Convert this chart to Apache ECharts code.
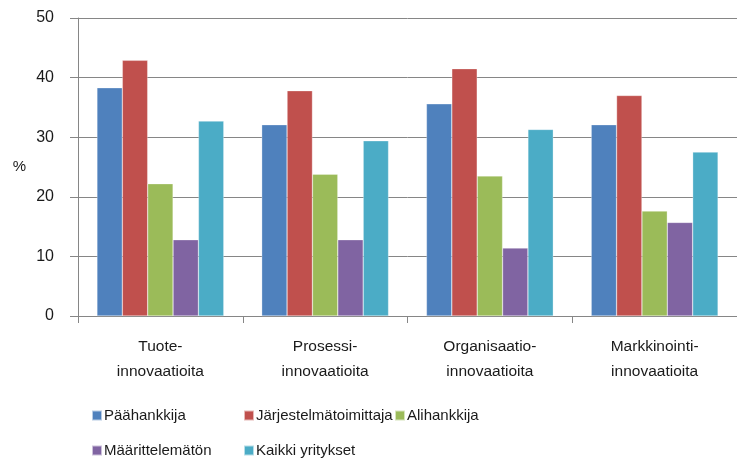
<!DOCTYPE html>
<html>
<head>
<meta charset="utf-8">
<script src="https://cdn.jsdelivr.net/npm/echarts@6/dist/echarts.min.js"></script>
<style>
  html, body { margin: 0; padding: 0; background: #fff; }
  #chart { width: 737px; height: 459px; }
</style>
</head>
<body>
<div id="chart"></div>
<script>
const categories = ['Tuote-\ninnovaatioita', 'Prosessi-\ninnovaatioita', 'Organisaatio-\ninnovaatioita', 'Markkinointi-\ninnovaatioita']
const seriesNames = ['Päähankkija', 'Järjestelmätoimittaja', 'Alihankkija', 'Määrittelemätön', 'Kaikki yritykset']
const paahankkija = [38.3, 32.1, 35.6, 32.1]
const jarjestelmatoimittaja = [42.9, 37.8, 41.5, 37.0]
const alihankkija = [22.2, 23.8, 23.5, 17.6]
const maarittelematon = [12.8, 12.8, 11.4, 15.7]
const kaikki = [32.7, 29.4, 31.3, 27.5]
const yTicks = [0, 10, 20, 30, 40, 50]

const colors = ['#4F81BD', '#C0504D', '#9BBB59', '#8064A2', '#4BACC6']
const values = [paahankkija, jarjestelmatoimittaja, alihankkija, maarittelematon, kaikki]
const font = 'Liberation Sans'
const textColor = '#1a1a1a'
const gray = '#868686'

// legend positions, one legend per item (two rows like the original)
const legendPos = [
  { left: 91, top: 408 },
  { left: 243, top: 408 },
  { left: 394, top: 408 },
  { left: 91, top: 443 },
  { left: 243, top: 443 }
]

const chart = echarts.init(document.getElementById('chart'))

const option = {
  animation: false,
  color: colors,
  textStyle: { fontFamily: font },
  grid: { left: 78, right: -6, top: 18, bottom: 143, containLabel: false },
  legend: seriesNames.map((name, i) => ({
    data: [name],
    left: legendPos[i].left,
    top: legendPos[i].top,
    icon: 'rect',
    itemWidth: 10,
    itemHeight: 10,
    itemGap: 0,
    padding: 0,
    textStyle: { fontFamily: font, fontSize: 15, color: textColor, padding: [0, 0, 0, -3] }
  })),
  xAxis: {
    type: 'category',
    data: categories,
    axisLine: { lineStyle: { color: gray, width: 1 } },
    axisTick: { show: true, length: 7, lineStyle: { color: gray } },
    axisLabel: {
      fontFamily: font,
      fontSize: 15.5,
      color: textColor,
      lineHeight: 25,
      margin: 18
    }
  },
  yAxis: {
    type: 'value',
    min: yTicks[0],
    max: yTicks[yTicks.length - 1],
    interval: 10,
    name: '%',
    nameLocation: 'middle',
    nameRotate: 0,
    nameGap: 52,
    nameTextStyle: { fontFamily: font, fontSize: 15, color: textColor },
    axisLine: { show: true, lineStyle: { color: gray, width: 1 } },
    axisTick: { show: true, length: 8, lineStyle: { color: gray } },
    axisLabel: { fontFamily: font, fontSize: 16, color: textColor, margin: 24 },
    splitLine: { show: true, lineStyle: { color: gray, width: 1 } }
  },
  series: seriesNames.map((name, i) => ({
    name: name,
    type: 'bar',
    data: values[i],
    barGap: '0%',
    barCategoryGap: '23%',
    itemStyle: { color: colors[i], borderColor: 'rgba(255,255,255,0.6)', borderWidth: 0.5 }
  }))
}

chart.setOption(option)
</script>
</body>
</html>
